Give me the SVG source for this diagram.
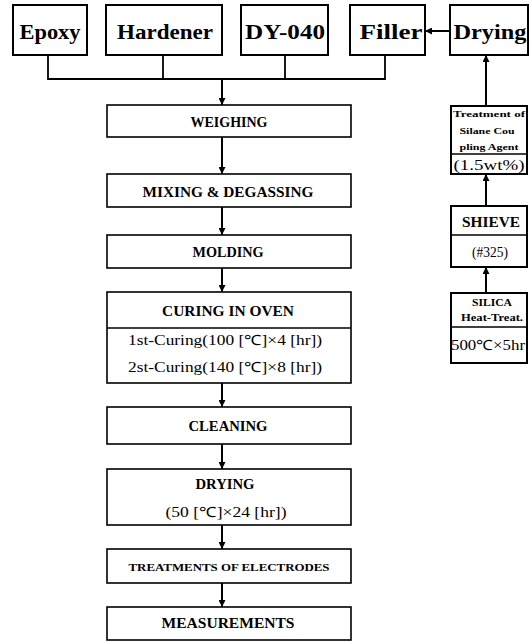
<svg xmlns="http://www.w3.org/2000/svg" width="532" height="642" viewBox="0 0 532 642">
<defs>
<marker id="ah" viewBox="0 0 10 10" refX="10" refY="5" markerWidth="7" markerHeight="7" markerUnits="userSpaceOnUse" orient="auto">
<path d="M0,0 L10,5 L0,10 z" fill="#000"/>
</marker>
</defs>
<style>
rect.top,rect.main,rect.side{fill:#fff;stroke:#000}
.bg{fill:#fff;stroke:none}
.top{stroke-width:2}
.main{stroke-width:1.6}
.side{stroke-width:2}
.div{stroke:#000;stroke-width:1.4}
text{font-family:"Liberation Serif","Times New Roman",serif;fill:#000;text-anchor:middle;dominant-baseline:central}
.t1{font-size:21px;font-weight:bold}
.t2{font-size:14px;font-weight:bold}
.t3{font-size:14px}
.t4{font-size:8px;font-weight:bold}
.con{fill:none;stroke:#000;stroke-width:1.8}
.arr{fill:none;stroke:#000;stroke-width:2;marker-end:url(#ah)}
</style>
<rect class="bg" width="532" height="642"/>
<g id="epoxy"><rect class="top" x="13" y="5" width="74" height="50"/><text class="t1" x="50" y="32" textLength="61" lengthAdjust="spacingAndGlyphs">Epoxy</text></g>
<g id="hardener"><rect class="top" x="106" y="5" width="116" height="50"/><text class="t1" x="165" y="32" textLength="96" lengthAdjust="spacingAndGlyphs">Hardener</text></g>
<g id="dy040"><rect class="top" x="241" y="5" width="87" height="50"/><text class="t1" x="285" y="32" textLength="80" lengthAdjust="spacingAndGlyphs">DY-040</text></g>
<g id="filler"><rect class="top" x="350" y="5" width="75" height="50"/><text class="t1" x="391" y="32" textLength="63" lengthAdjust="spacingAndGlyphs">Filler</text></g>
<g id="drying-top"><rect class="top" x="450" y="5" width="78" height="50"/><text class="t1" x="490" y="32" textLength="73" lengthAdjust="spacingAndGlyphs">Drying</text></g>
<g id="weighing"><rect class="main" x="107" y="105" width="244" height="32"/><text class="t2" x="229" y="122" textLength="77" lengthAdjust="spacingAndGlyphs">WEIGHING</text></g>
<g id="mixing"><rect class="main" x="107" y="174" width="244" height="33"/><text class="t2" x="228" y="192" textLength="171" lengthAdjust="spacingAndGlyphs">MIXING &amp; DEGASSING</text></g>
<g id="molding"><rect class="main" x="107" y="235" width="244" height="33"/><text class="t2" x="228" y="252" textLength="71" lengthAdjust="spacingAndGlyphs">MOLDING</text></g>
<g id="curing"><rect class="main" x="107" y="292" width="244" height="91"/><line class="div" x1="107" y1="328" x2="351" y2="328"/><text class="t2" x="228" y="311" textLength="132" lengthAdjust="spacingAndGlyphs">CURING IN OVEN</text><text class="t3" x="225" y="340" textLength="194" lengthAdjust="spacingAndGlyphs">1st-Curing(100 [℃]×4 [hr])</text><text class="t3" x="225" y="367" textLength="194" lengthAdjust="spacingAndGlyphs">2st-Curing(140 [℃]×8 [hr])</text></g>
<g id="cleaning"><rect class="main" x="107" y="407" width="244" height="37"/><text class="t2" x="228" y="426" textLength="79" lengthAdjust="spacingAndGlyphs">CLEANING</text></g>
<g id="drying"><rect class="main" x="107" y="469" width="244" height="56"/><text class="t2" x="225" y="484" textLength="59" lengthAdjust="spacingAndGlyphs">DRYING</text><text class="t3" x="226" y="512" textLength="121" lengthAdjust="spacingAndGlyphs">(50 [℃]×24 [hr])</text></g>
<g id="treatments"><rect class="main" x="107" y="549" width="244" height="34"/><text class="t2" x="229" y="567" style="font-size:11px" textLength="201" lengthAdjust="spacingAndGlyphs">TREATMENTS OF ELECTRODES</text></g>
<g id="measurements"><rect class="main" x="107" y="607" width="244" height="33"/><text class="t2" x="228" y="623" textLength="133" lengthAdjust="spacingAndGlyphs">MEASUREMENTS</text></g>
<g id="silane"><rect class="side" x="451" y="106" width="76" height="68"/><line class="div" x1="451" y1="154" x2="527" y2="154"/><text class="t4" x="489" y="114" textLength="72" lengthAdjust="spacingAndGlyphs">Treatment of</text><text class="t4" x="487" y="131" textLength="55" lengthAdjust="spacingAndGlyphs">Silane Cou</text><text class="t4" x="489" y="147" textLength="59" lengthAdjust="spacingAndGlyphs">pling Agent</text><text class="t3" x="489" y="165" textLength="71" lengthAdjust="spacingAndGlyphs">(1.5wt%)</text></g>
<g id="shieve"><rect class="side" x="451" y="206" width="76" height="61"/><line class="div" x1="451" y1="235" x2="527" y2="235"/><text class="t2" x="491" y="222" style="font-size:15px" textLength="58" lengthAdjust="spacingAndGlyphs">SHIEVE</text><text class="t3" x="490" y="252" textLength="36" lengthAdjust="spacingAndGlyphs">(#325)</text></g>
<g id="silica"><rect class="side" x="451" y="293" width="76" height="70"/><line class="div" x1="451" y1="327" x2="527" y2="327"/><text class="t2" x="492" y="302" style="font-size:10px" textLength="40" lengthAdjust="spacingAndGlyphs">SILICA</text><text class="t2" x="492" y="317" style="font-size:10px" textLength="62" lengthAdjust="spacingAndGlyphs">Heat-Treat.</text><text class="t3" x="488" y="345" textLength="74" lengthAdjust="spacingAndGlyphs">500℃×5hr</text></g>
<g id="connectors">
<polyline class="con" points="48,55 48,79 385,79 385,55"/>
<line class="con" x1="163" y1="55" x2="163" y2="79"/>
<line class="con" x1="285" y1="55" x2="285" y2="79"/>
<line class="arr" x1="222" y1="79" x2="222" y2="105"/>
<line class="arr" x1="222" y1="137" x2="222" y2="174"/>
<line class="arr" x1="222" y1="207" x2="222" y2="235"/>
<line class="arr" x1="222" y1="268" x2="222" y2="292"/>
<line class="arr" x1="222" y1="383" x2="222" y2="407"/>
<line class="arr" x1="222" y1="444" x2="222" y2="469"/>
<line class="arr" x1="222" y1="525" x2="222" y2="549"/>
<line class="arr" x1="222" y1="583" x2="222" y2="607"/>
<line class="arr" x1="450" y1="31" x2="425" y2="31"/>
<line class="arr" x1="486" y1="106" x2="486" y2="55"/>
<line class="arr" x1="486" y1="206" x2="486" y2="174"/>
<line class="arr" x1="486" y1="293" x2="486" y2="267"/>
</g>
</svg>
